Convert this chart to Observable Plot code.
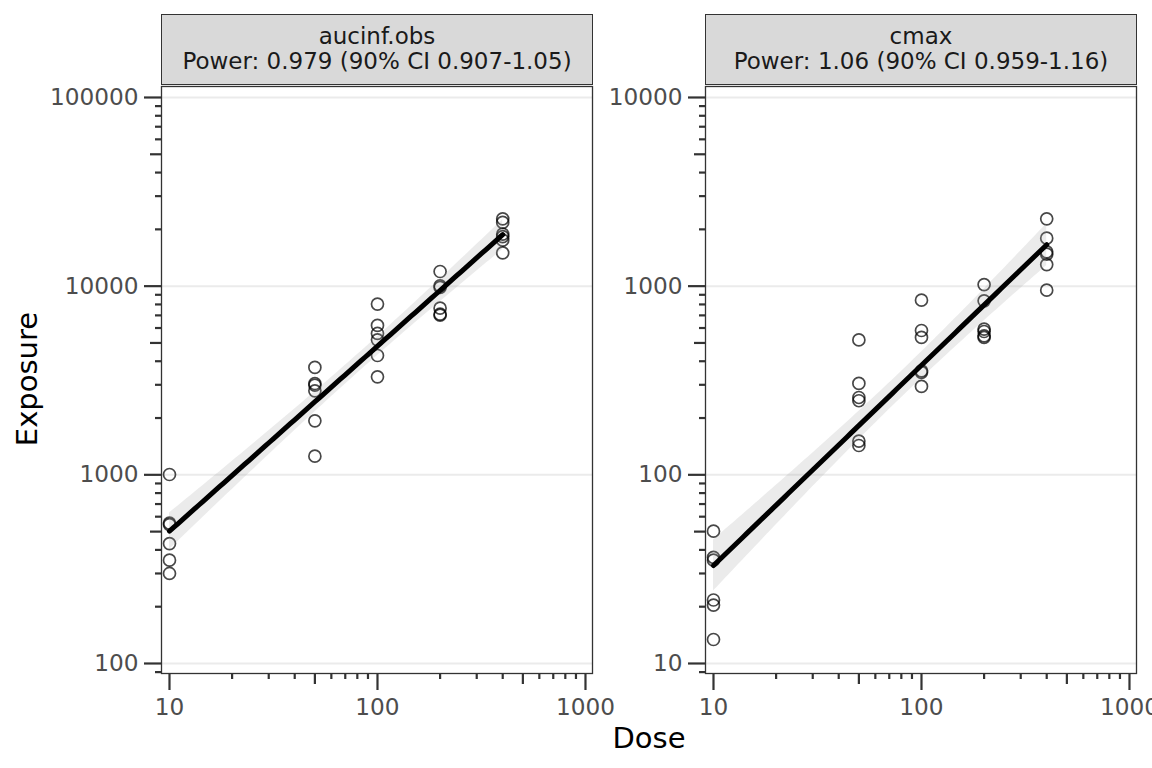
<!DOCTYPE html>
<html>
<head>
<meta charset="utf-8">
<script src="https://cdn.jsdelivr.net/npm/d3@7"></script>
<script src="https://cdn.jsdelivr.net/npm/@observablehq/plot@0.6"></script>
<style>
  body { margin: 0; background: #fff; }
  #wrap { position: relative; width: 1152px; height: 768px; overflow: hidden; font-family: "DejaVu Sans", sans-serif; background: #fff; }
  .pl { position: absolute; top: 0; }
  .strip { position: absolute; box-sizing: border-box; background: #d9d9d9; border: 1.3px solid #333; color: #1a1a1a; font-size: 23px; line-height: 25px; text-align: center; padding-top: 9px; white-space: nowrap; }
  #ylab { position: absolute; left: 27px; top: 379px; transform: translate(-50%, -50%) rotate(-90deg); font-size: 29px; color: #000; white-space: nowrap; }
  #xlab { position: absolute; left: 649px; top: 738px; transform: translate(-50%, -50%); font-size: 29px; color: #000; white-space: nowrap; }
</style>
</head>
<body>
<div id="wrap">
  <div id="plotA" class="pl" style="left:0px"></div>
  <div id="plotB" class="pl" style="left:620px"></div>
  <div id="ylab">Exposure</div>
  <div id="xlab">Dose</div>
</div>
<script>
// ---------------- data ----------------
const dose = [10,10,10,10,10,10, 50,50,50,50,50,50, 100,100,100,100,100,100, 200,200,200,200,200,200, 400,400,400,400,400,400];
const aucinfObs = [1004,555,545,432,353,300, 3707,3048,2990,2786,1932,1256, 8033,6195,5613,5196,4290,3305, 11960,10040,9840,7645,7105,7020, 22750,21760,18860,18320,17530,15020];
const cmax = [50.3,36.5,35.3,21.7,20.4,13.4, 519,305,257,247,151,143, 843,582,535,356,349,294, 1020,836,592,575,545,535, 2275,1797,1521,1477,1302,952];

const panelNames = ["aucinf.obs", "cmax"];
const powerLabels = ["Power: 0.979 (90% CI 0.907-1.05)", "Power: 1.06 (90% CI 0.959-1.16)"];

const xMajorTicks = [10, 100, 1000];
const yMajorTicksAuc = [100, 1000, 10000, 100000];
const yMajorTicksCmax = [10, 100, 1000, 10000];
const minorMultipliers = [2, 3, 4, 6, 7, 8, 9];
const midMultipliers = [5];

// ---------------- helpers ----------------
const T95 = 2.0484; // t quantile (0.975, df = 28)
function powerFit(xs, ys) {
  const lx = xs.map(Math.log10), ly = ys.map(Math.log10);
  const n = lx.length;
  const mx = d3.mean(lx), my = d3.mean(ly);
  const sxx = d3.sum(lx, v => (v - mx) ** 2);
  const sxy = d3.sum(lx.map((v, i) => (v - mx) * (ly[i] - my)));
  const b = sxy / sxx, a = my - b * mx;
  const sse = d3.sum(lx.map((v, i) => (ly[i] - a - b * v) ** 2));
  const s = Math.sqrt(sse / (n - 2));
  const lo = d3.min(lx), hi = d3.max(lx);
  return d3.range(81).map(k => {
    const u = lo + (hi - lo) * k / 80;
    const f = a + b * u;
    const se = s * Math.sqrt(1 / n + (u - mx) ** 2 / sxx);
    return {x: 10 ** u, fit: 10 ** f, lo: 10 ** (f - T95 * se), hi: 10 ** (f + T95 * se)};
  });
}
function logTicks(majors, mults, domain) {
  const out = [];
  const decades = [majors[0] / 10, ...majors];
  for (const d of decades) for (const m of mults) {
    const v = d * m;
    if (v >= domain[0] && v <= domain[1]) out.push(v);
  }
  return out;
}

const xDomain = [9.153, 1080.8];
const tickStroke = "#333";
const textFill = "#4d4d4d";
const noText = () => "";

function panel(values, yDomain, yMajor, width, marginLeft, marginRight) {
  const pts = dose.map((d, i) => ({dose: d, value: values[i]}));
  const band = powerFit(dose, values);
  const yMid = logTicks(yMajor, midMultipliers, yDomain);
  const yMinor = logTicks(yMajor, minorMultipliers, yDomain);
  const xMid = logTicks(xMajorTicks, midMultipliers, xDomain);
  const xMinor = logTicks(xMajorTicks, minorMultipliers, xDomain);
  return Plot.plot({
    width, height: 768,
    marginTop: 86, marginBottom: 95, marginLeft, marginRight,
    style: {background: "transparent", overflow: "visible", fontFamily: "DejaVu Sans, sans-serif"},
    x: {type: "log", domain: xDomain, label: null},
    y: {type: "log", domain: yDomain, label: null},
    marks: [
      Plot.gridY(yMajor, {stroke: "#ebebeb", strokeOpacity: 1, strokeWidth: 2}),
      Plot.dot(pts, {x: "dose", y: "value", r: 6, fill: "none", stroke: "#000", strokeOpacity: 0.72, strokeWidth: 1.7}),
      Plot.areaY(band, {x: "x", y1: "lo", y2: "hi", fill: "#999", fillOpacity: 0.2}),
      Plot.line(band, {x: "x", y: "fit", stroke: "#000", strokeWidth: 5}),
      Plot.frame({stroke: "#333", strokeWidth: 1.3}),
      Plot.axisY(yMid, {anchor: "left", tickSize: 11, stroke: tickStroke, strokeWidth: 2.2, tickFormat: noText, label: null}),
      Plot.axisY(yMinor, {anchor: "left", tickSize: 6, stroke: tickStroke, strokeWidth: 2.2, tickFormat: noText, label: null}),
      Plot.axisY(yMajor, {anchor: "left", tickSize: 17, tickPadding: 6, stroke: tickStroke, strokeWidth: 2.2, fill: textFill, fontSize: 23.2, tickFormat: d => String(d), label: null}),
      Plot.axisX(xMid, {anchor: "bottom", tickSize: 11, stroke: tickStroke, strokeWidth: 2.2, tickFormat: noText, label: null}),
      Plot.axisX(xMinor, {anchor: "bottom", tickSize: 6, stroke: tickStroke, strokeWidth: 2.2, tickFormat: noText, label: null}),
      Plot.axisX(xMajorTicks, {anchor: "bottom", tickSize: 17, tickPadding: 8, stroke: tickStroke, strokeWidth: 2.2, fill: textFill, fontSize: 23.2, tickFormat: d => String(d), label: null})
    ]
  });
}

document.getElementById("plotA").append(panel(aucinfObs, [88.5, 114350], yMajorTicksAuc, 620, 161, 28));
document.getElementById("plotB").append(panel(cmax, [8.85, 11435], yMajorTicksCmax, 532, 85, 16));

// strips
const stripLefts = [161, 705];
const wrap = document.getElementById("wrap");
panelNames.forEach((name, i) => {
  const s = document.createElement("div");
  s.className = "strip";
  s.style.left = stripLefts[i] + "px";
  s.style.top = "14px";
  s.style.width = "432px";
  s.style.height = "71px";
  const l1 = document.createElement("div"); l1.textContent = name;
  const l2 = document.createElement("div"); l2.textContent = powerLabels[i];
  s.append(l1, l2);
  wrap.append(s);
});
</script>
</body>
</html>
